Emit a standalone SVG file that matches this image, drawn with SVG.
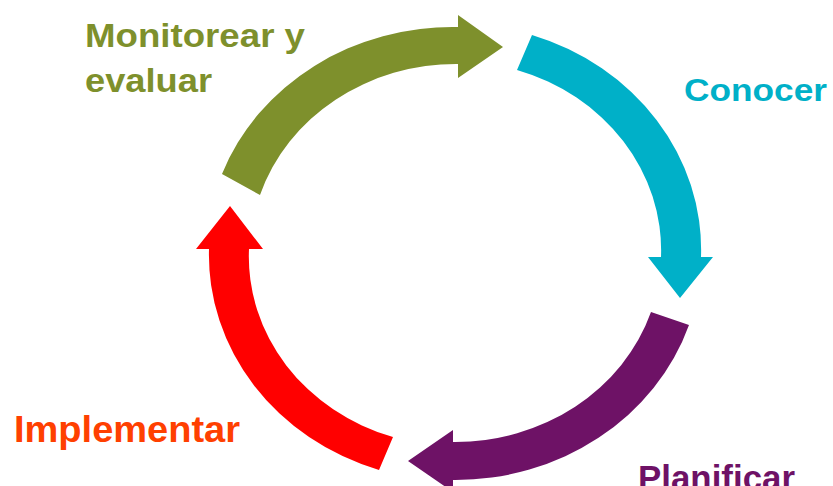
<svg xmlns="http://www.w3.org/2000/svg" width="833" height="486" viewBox="0 0 833 486">
<style>
.lbl{font-family:"Liberation Sans","DejaVu Sans",sans-serif;font-weight:bold;}
</style>
<rect width="833" height="486" fill="#ffffff"/>
<g id="connectors">
<path id="arrow-monitorear" fill="#7E902C" d="M222,174 A246,226 0 0 1 458,27 L458,15 L503,47 L458,78 L458,64 A206,189 0 0 0 260,195 Z"/>
<path id="arrow-conocer" fill="#00B0C8" d="M532,35 A246,226 0 0 1 701,257 L713,257 L680,298 L648,257 L661,257 A206,189 0 0 0 517,70 Z"/>
<path id="arrow-planificar" fill="#6E1266" d="M689,325 A246,226 0 0 1 453,480 L453,492 L408,461 L453,430 L453,442 A206,189 0 0 0 651,312 Z"/>
<path id="arrow-implementar" fill="#FF0000" d="M379,470 A246,226 0 0 1 209,249 L196,249 L230,206 L263,249 L249,249 A206,189 0 0 0 393,437 Z"/>
</g>
<g id="node-monitorear">
<text class="lbl" x="85" y="47" font-size="34" fill="#7E902C" textLength="220" lengthAdjust="spacingAndGlyphs">Monitorear y</text>
<text class="lbl" x="85" y="92" font-size="34" fill="#7E902C" textLength="127" lengthAdjust="spacingAndGlyphs">evaluar</text>
</g>
<g id="node-conocer">
<text class="lbl" x="684" y="101" font-size="32" fill="#00B0C8" textLength="143" lengthAdjust="spacingAndGlyphs">Conocer</text>
</g>
<g id="node-planificar">
<text class="lbl" x="638" y="490" font-size="35" fill="#6E1266" textLength="157" lengthAdjust="spacingAndGlyphs">Planificar</text>
</g>
<g id="node-implementar">
<text class="lbl" x="14" y="442" font-size="37" fill="#FF4000" textLength="226" lengthAdjust="spacingAndGlyphs">Implementar</text>
</g>
</svg>
